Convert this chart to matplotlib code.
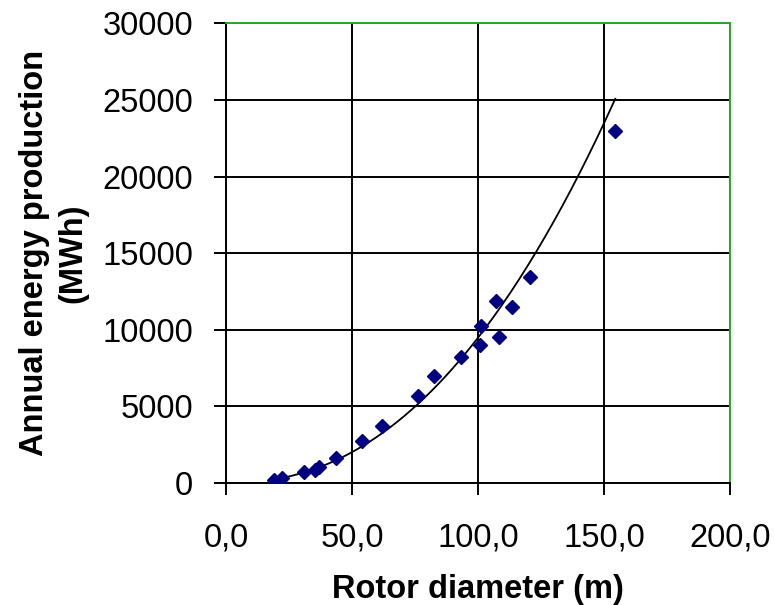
import numpy as np
import matplotlib.pyplot as plt

plt.rcParams['font.family'] = ['Liberation Sans', 'DejaVu Sans']

# rotor diameter (m) and annual energy production (MWh)
diameter = [18.9, 22.3, 30.8, 35.2, 36.8, 43.5, 54.0, 61.9, 76.0, 82.5,
            93.1, 100.8, 101.1, 107.1, 108.1, 113.4, 120.4, 154.4]
energy = [210, 300, 690, 830, 1050, 1600, 2760, 3690, 5710, 6980,
          8200, 9000, 10240, 11870, 9540, 11500, 13460, 22980]

x_ticks = [0, 50, 100, 150, 200]
x_labels = ['0,0', '50,0', '100,0', '150,0', '200,0']
y_ticks = [0, 5000, 10000, 15000, 20000, 25000, 30000]

# power-law trend line (fit in log space, like a spreadsheet trendline)
b, log_a = np.polyfit(np.log(diameter), np.log(energy), 1)
xs = np.linspace(min(diameter), max(diameter), 200)
ys = np.exp(log_a) * xs ** b

fig = plt.figure(figsize=(7.75, 6.05), dpi=100)
ax = fig.add_axes([0.2916, 0.2017, 0.6506, 0.7595])

ax.plot(diameter, energy, 'D', color='#000080', markersize=7, zorder=3)
ax.plot(xs, ys, color='black', linewidth=1.3, zorder=2)

ax.set_xlim(0, 200)
ax.set_ylim(0, 30000)
ax.set_xticks(x_ticks)
ax.set_xticklabels(x_labels)
ax.set_yticks(y_ticks)
ax.grid(True, color='black', linewidth=1.4)
ax.set_axisbelow(True)

ax.tick_params(direction='out', length=8.5, width=1.4, labelsize=23.5)
ax.tick_params(axis='y', pad=15)
ax.tick_params(axis='x', pad=20)

for side in ['left', 'bottom']:
    ax.spines[side].set_color('black')
    ax.spines[side].set_linewidth(1.4)
for side in ['top', 'right']:
    ax.spines[side].set_color('#28aa28')
    ax.spines[side].set_linewidth(1.4)

ax.set_xlabel('Rotor diameter (m)', fontsize=23.5, fontweight='bold', labelpad=15)
ax.set_ylabel('Annual energy production\n(MWh)', fontsize=23.5, fontweight='bold',
              labelpad=10, linespacing=1.3)

fig.savefig('out.png', dpi=100)
